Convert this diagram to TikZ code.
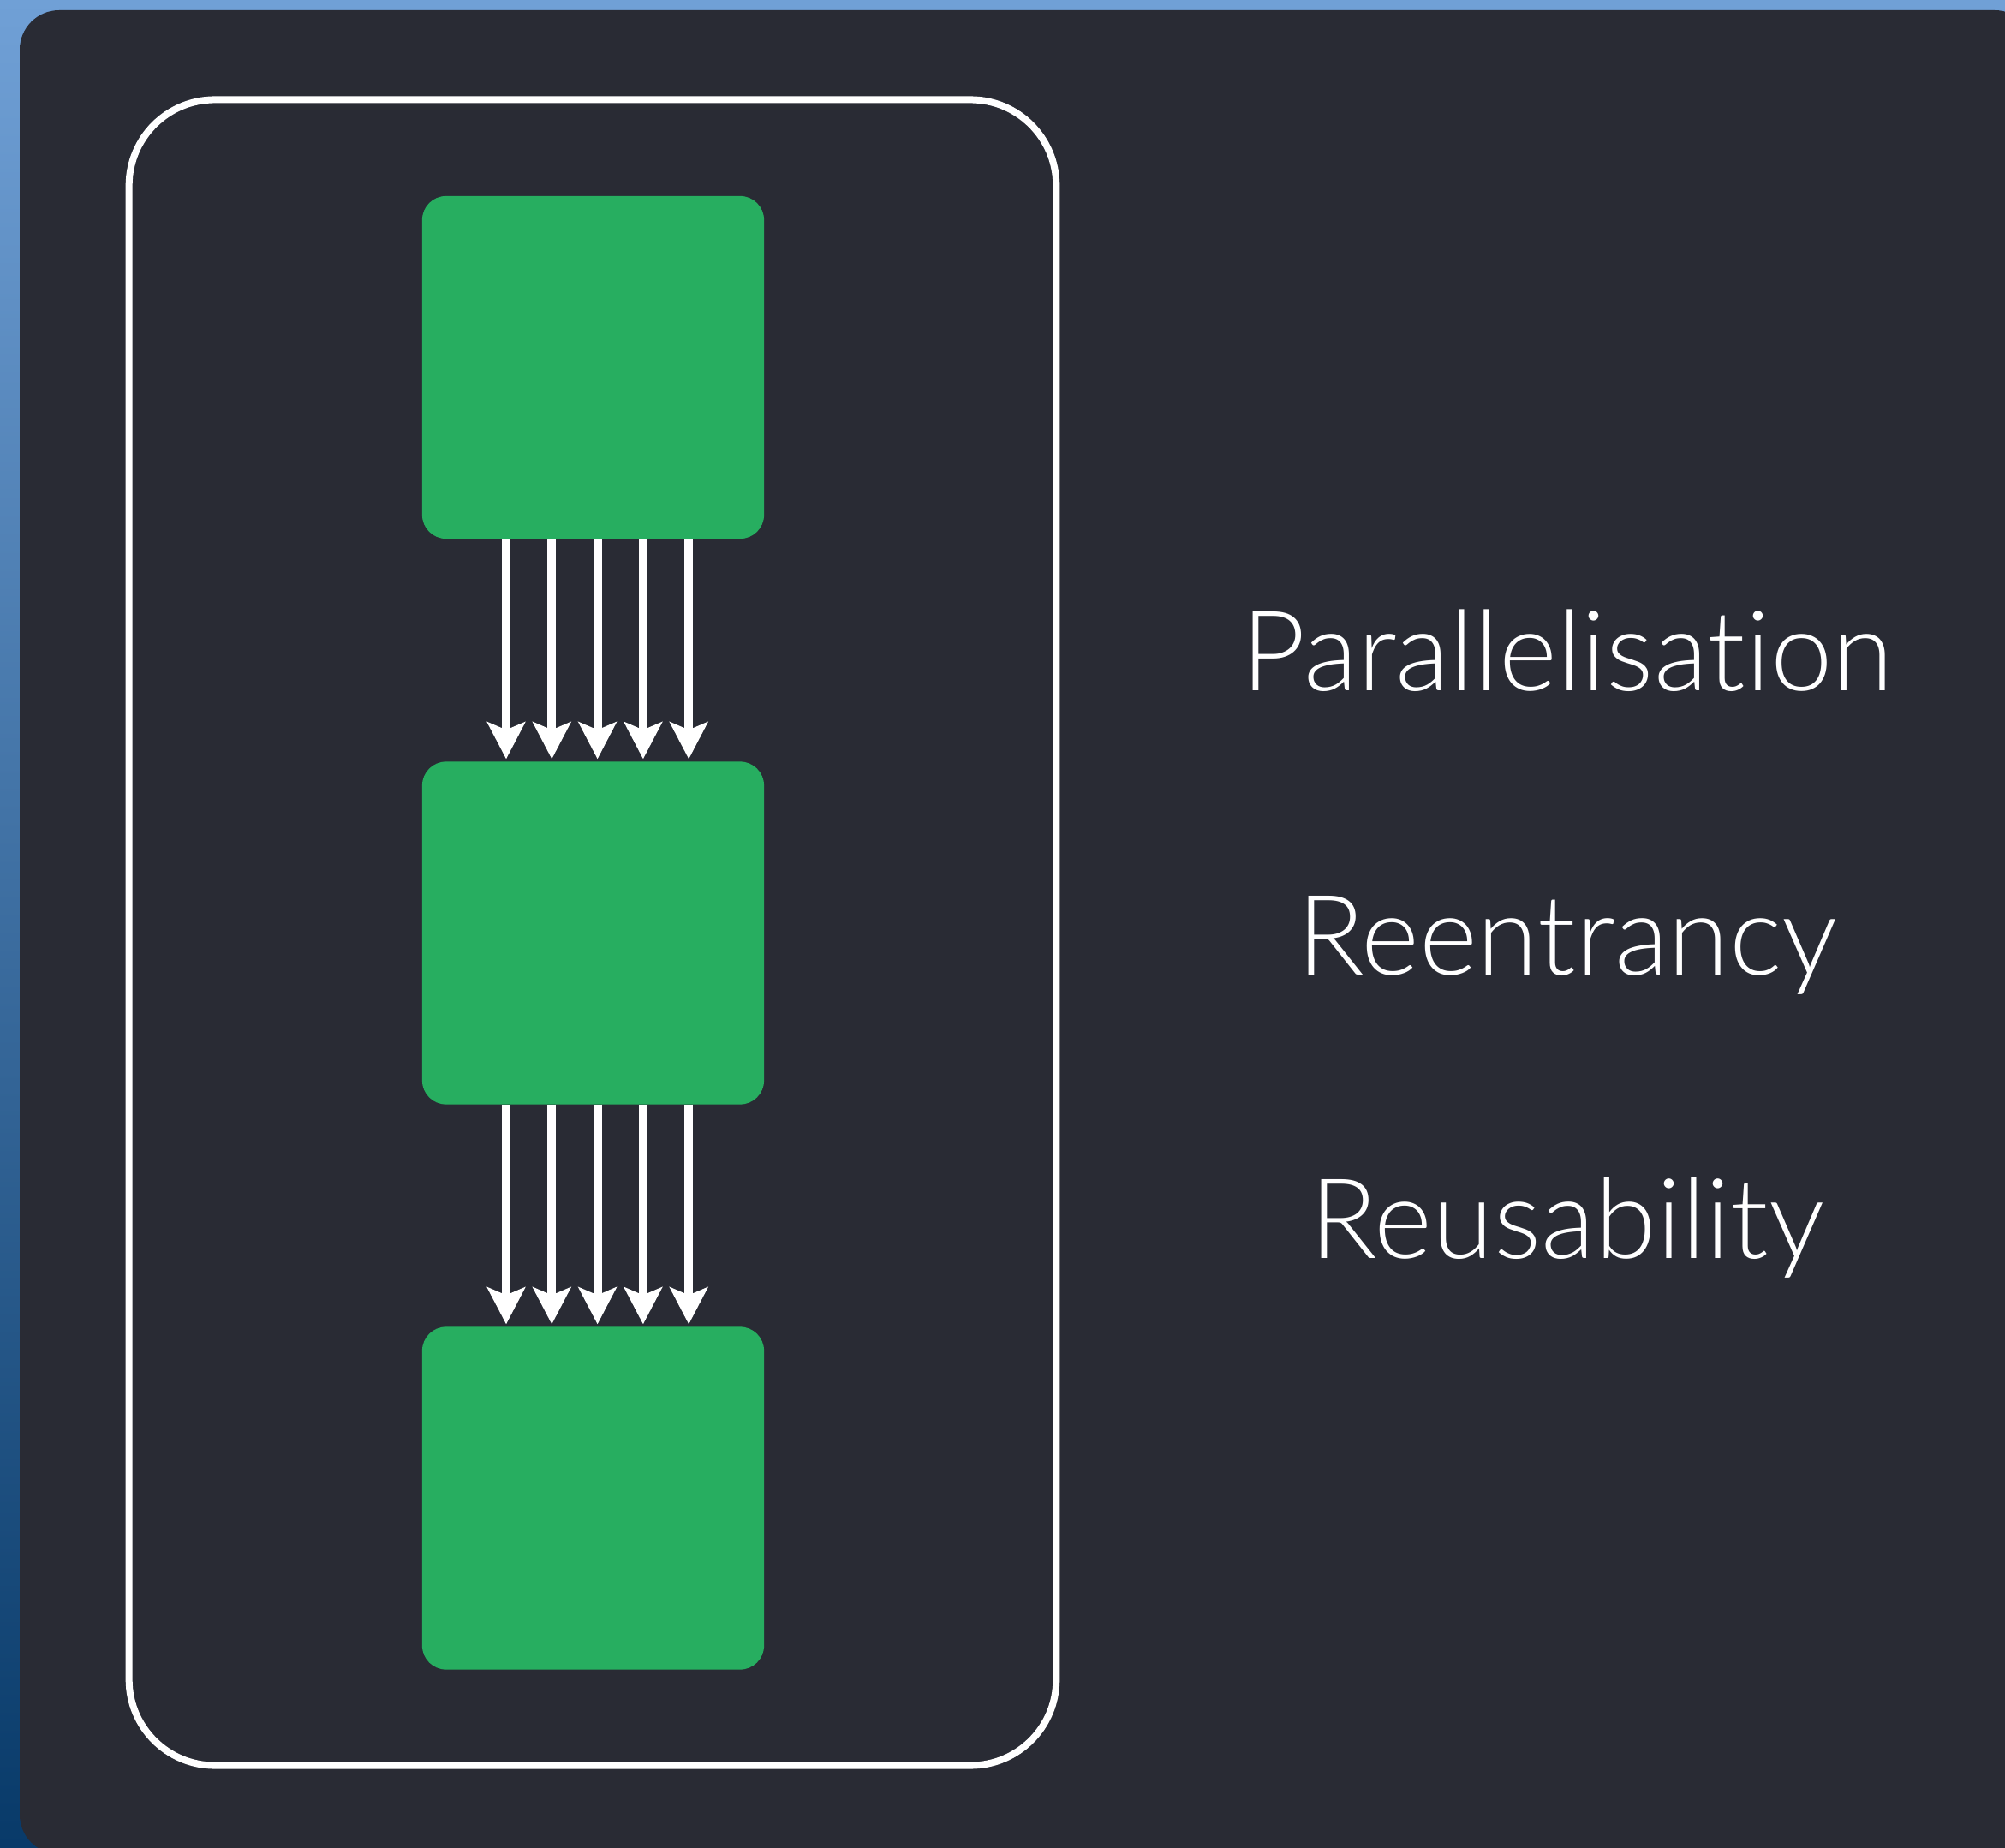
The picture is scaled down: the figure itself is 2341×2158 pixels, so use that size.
\documentclass[tikz,border=0pt]{standalone}
\usepackage{fontspec}
\setmainfont{Lato}[UprightFont=* Light, Ligatures=NoCommon]
\usetikzlibrary{arrows.meta}
\definecolor{panel}{RGB}{41,43,52}
\definecolor{boxgreen}{RGB}{39,174,96}
\definecolor{skytop}{RGB}{112,160,214}
\definecolor{skybot}{RGB}{8,58,105}
\begin{document}
\begin{tikzpicture}[x=0.01cm,y=-0.01cm,
  gbox/.style={fill=boxgreen, rounded corners=0.28cm, minimum width=3.99cm, minimum height=4cm, inner sep=0pt, outer sep=0pt},
  frame/.style={draw=white, line width=0.08cm, rounded corners=1cm, minimum width=10.82cm, minimum height=19.44cm, inner sep=0pt},
  flow/.style={draw=white, line width=0.1cm, -{Stealth[length=0.43cm,width=0.44cm,inset=0.09cm]}, shorten >=0.03cm},
  feature/.style={text=white, font=\fontsize{37}{40}\selectfont, anchor=base, inner sep=0pt}]
\useasboundingbox (0,0) rectangle (2341,2158);
\shade[top color=skytop, bottom color=skybot] (0,0) rectangle (2341,2158);
\fill[panel, rounded corners=0.46cm] (23,12) rectangle (2375,2165);
\node[frame] (fr) at (692,1089) {};
\node[gbox] (b1) at (692.5,429) {};
\node[gbox] (b2) at (692.5,1089.5) {};
\node[gbox] (b3) at (692.5,1749.5) {};
\foreach \dx in {-101.5,-48.2,5.1,58.4,111.7} {
  \draw[flow] ([xshift=\dx*0.01cm]b1.south) -- ([xshift=\dx*0.01cm]b2.north);
  \draw[flow] ([xshift=\dx*0.01cm]b2.south) -- ([xshift=\dx*0.01cm]b3.north);
}
\node[feature] (t1) at (1830,807) {Parallelisation};
\node[feature] (t2) at (1830,1138) {Reentrancy};
\node[feature] (t3) at (1830,1469) {Reusability};
\end{tikzpicture}
\end{document}
